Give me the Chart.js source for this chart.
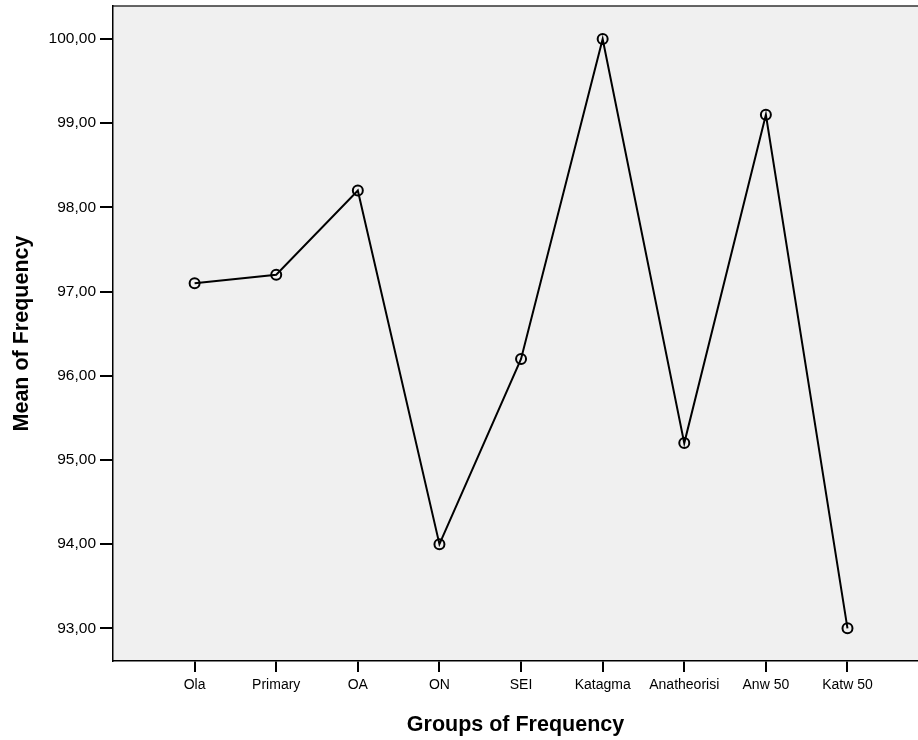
<!DOCTYPE html>
<html>
<head>
<meta charset="utf-8">
<script src="https://cdn.jsdelivr.net/npm/chart.js@4/dist/chart.umd.min.js"></script>
<style>
  html, body { margin: 0; padding: 0; background: #fff; }
  canvas { display: block; }
</style>
</head>
<body>
<canvas id="meanChart" width="918" height="740"></canvas>
<script>
// groups on the x axis
const groups = ['Ola', 'Primary', 'OA', 'ON', 'SEI', 'Katagma', 'Anatheorisi', 'Anw 50', 'Katw 50'];
// mean of frequency for each group
const means = [97.1, 97.2, 98.2, 94.0, 96.2, 100.0, 95.2, 99.1, 93.0];
// y tick values
const yTicks = [93, 94, 95, 96, 97, 98, 99, 100];

// fill the plot area grey and draw the top frame line
const plotFrame = {
  id: 'plotFrame',
  beforeDraw(chart) {
    const { ctx, chartArea: a } = chart;
    ctx.save();
    ctx.fillStyle = '#f0f0f0';
    ctx.fillRect(a.left, a.top, a.right - a.left, a.bottom - a.top);
    ctx.strokeStyle = '#333';
    ctx.lineWidth = 1.5;
    ctx.beginPath();
    ctx.moveTo(a.left, a.top);
    ctx.lineTo(a.right, a.top);
    ctx.stroke();
    ctx.restore();
  }
};

const font = 'Liberation Sans, Arial, sans-serif';

const ctx = document.getElementById('meanChart').getContext('2d');
new Chart(ctx, {
  type: 'line',
  data: {
    datasets: [{
      data: means.map((v, i) => ({ x: i, y: v })),
      borderColor: '#000',
      borderWidth: 2,
      tension: 0,
      clip: false,
      pointRadius: 5,
      pointBorderWidth: 2,
      pointBorderColor: '#000',
      pointBackgroundColor: 'rgba(0,0,0,0)',
      pointHoverRadius: 5
    }]
  },
  options: {
    responsive: false,
    animation: false,
    layout: { autoPadding: false, padding: { left: 0, top: 6, right: 0, bottom: 0 } },
    plugins: {
      legend: { display: false },
      tooltip: { enabled: false }
    },
    scales: {
      x: {
        type: 'linear',
        min: -1,
        max: 8.864,
        afterBuildTicks: scale => { scale.ticks = groups.map((g, i) => ({ value: i })); },
        afterFit: scale => {
          scale.height = 79;
          scale.paddingLeft = 0;
          scale.paddingRight = 0;
        },
        ticks: {
          autoSkip: false,
          maxRotation: 0,
          padding: 5,
          color: '#000',
          font: { family: font, size: 14 },
          callback: value => groups[value]
        },
        grid: { drawOnChartArea: false, drawTicks: true, tickLength: 11, color: '#000', lineWidth: 2 },
        border: { display: true, color: '#000', width: 1.5 },
        title: {
          display: true,
          text: 'Groups of Frequency',
          color: '#000',
          font: { family: font, size: 21.5, weight: 'bold' },
          padding: { top: 0, bottom: 2 }
        }
      },
      y: {
        min: 92.612,
        max: 100.392,
        afterBuildTicks: scale => { scale.ticks = yTicks.map(v => ({ value: v })); },
        afterFit: scale => {
          scale.width = 113;
          scale.paddingTop = 0;
          scale.paddingBottom = 0;
        },
        ticks: {
          padding: 4,
          color: '#000',
          font: { family: font, size: 15.5 },
          callback: value => value.toFixed(2).replace('.', ',')
        },
        grid: { drawOnChartArea: false, drawTicks: true, tickLength: 13, color: '#000', lineWidth: 2 },
        border: { display: true, color: '#000', width: 1.5 },
        title: {
          display: true,
          text: 'Mean of Frequency',
          color: '#000',
          font: { family: font, size: 21.5, weight: 'bold' },
          padding: { top: 9, bottom: 0 }
        }
      }
    }
  },
  plugins: [plotFrame]
});
</script>
</body>
</html>
